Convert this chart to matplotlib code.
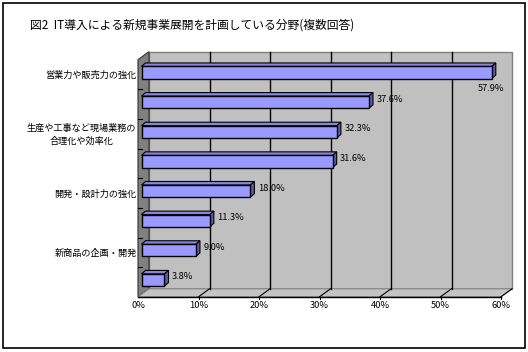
import matplotlib
matplotlib.use("Agg")
import matplotlib.pyplot as plt
from matplotlib.patches import Rectangle, Polygon

plt.rcParams["font.family"] = ["Noto Sans CJK JP", "DejaVu Sans"]

TITLE = "図2  IT導入による新規事業展開を計画している分野(複数回答)"
# only every other category label is printed in the original chart
categories = ["営業力や販売力の強化", "", "生産や工事など現場業務の\n合理化や効率化", "",
              "開発・設計力の強化", "", "新商品の企画・開発", ""]
values = [57.9, 37.6, 32.3, 31.6, 18.0, 11.3, 9.0, 3.8]
xticks = [0, 10, 20, 30, 40, 50, 60]
xticklabels = ["0%", "10%", "20%", "30%", "40%", "50%", "60%"]

FRONT_C = "#9999ff"
TOP_C = "#8686e0"
SIDE_C = "#5c5ca6"
WALL_C = "#c0c0c0"
SIDE_WALL_C = "#808080"

FIG_W, FIG_H = 528, 352
# plot plane of the bars, in pixels
AX_L, AX_R, AX_T, AX_B = 141.5, 504.5, 57.7, 294.8

fig = plt.figure(figsize=(FIG_W / 100, FIG_H / 100), dpi=100)
fig.patch.set_facecolor("white")
fig.patches.append(Rectangle((3 / FIG_W, 4 / FIG_H), 522 / FIG_W, 345 / FIG_H,
                             transform=fig.transFigure, fill=False,
                             edgecolor="black", lw=1.2))
fig.text(30 / FIG_W, 1 - 25 / FIG_H, TITLE, ha="left", va="center", fontsize=8.5)

ax = fig.add_axes([AX_L / FIG_W, 1 - AX_B / FIG_H,
                   (AX_R - AX_L) / FIG_W, (AX_B - AX_T) / FIG_H])
ax.set_xlim(0, 60)
ax.set_ylim(len(values) - 0.5, -0.5)
ax.axis("off")

ux = 60 / (AX_R - AX_L)
uy = len(values) / (AX_B - AX_T)


def px(dx, dy):
    # pixel offset -> data offset (dy > 0 means down)
    return dx * ux, dy * uy


bx, by = px(7.5, -6)      # back wall
fx, fy = px(-3.5, 2)      # front edge of floor / left wall
ddx, ddy = px(4, -3.5)    # bar depth
y0, y1 = -0.5, len(values) - 0.5
xmax = xticks[-1]

kw = dict(clip_on=False)
# back wall
ax.add_patch(Rectangle((bx, y0 + by), xmax, y1 - y0, facecolor=WALL_C,
                       edgecolor=SIDE_WALL_C, lw=1, zorder=0, **kw))
# left wall
ax.add_patch(Polygon([(fx, y0 + fy), (bx, y0 + by), (bx, y1 + by), (fx, y1 + fy)],
                     facecolor=SIDE_WALL_C, edgecolor="#303030", lw=0.8, zorder=1, **kw))
# floor
ax.add_patch(Polygon([(fx, y1 + fy), (bx, y1 + by), (xmax + bx, y1 + by), (xmax + fx, y1 + fy)],
                     facecolor="#c4c4c4", edgecolor=SIDE_WALL_C, lw=0.8, zorder=1, **kw))
ax.plot([fx, xmax + fx], [y1 + fy, y1 + fy], color="black", lw=1, zorder=2, **kw)

# gridlines on wall and floor, tick labels on the front edge
for t, lab in zip(xticks, xticklabels):
    if 0 < t < xmax:
        ax.plot([t + bx, t + bx], [y0 + by, y1 + by], color="black", lw=1, zorder=1.5, **kw)
    if t > 0:
        ax.plot([t + fx, t + bx], [y1 + fy, y1 + by], color="black", lw=0.8, zorder=2, **kw)
        ax.plot([t + fx, t + fx], [y1 + fy, y1 + fy + px(0, 2)[1]], color="black", lw=0.8, zorder=2, **kw)
    ax.text(t + fx, y1 + fy + px(0, 4)[1], lab, ha="center", va="top", fontsize=6.7)

# category ticks on the left wall
for b in range(len(values) - 1):
    ax.plot([fx, fx + px(4, 0)[0]], [b + 0.5 + fy, b + 0.5 + fy], color="black", lw=0.8, zorder=2, **kw)

# bars
h = 0.41
for i, (v, cat) in enumerate(zip(values, categories)):
    top, bot = i - h / 2, i + h / 2
    ax.add_patch(Polygon([(0, top), (ddx, top + ddy), (v + ddx, top + ddy), (v, top)],
                         facecolor=TOP_C, edgecolor="black", lw=0.8, zorder=3, **kw))
    ax.add_patch(Polygon([(v, top), (v + ddx, top + ddy), (v + ddx, bot + ddy), (v, bot)],
                         facecolor=SIDE_C, edgecolor="black", lw=0.8, zorder=3, **kw))
    ax.add_patch(Rectangle((0, top), v, h, facecolor=FRONT_C, edgecolor="black",
                           lw=1, zorder=3.5, **kw))
    lab = f"{v:.1f}%"
    if v > 50:
        ax.text(v + px(12, 0)[0], i + px(0, 16)[1], lab, ha="right", va="center",
                fontsize=6.7, zorder=4)
    else:
        ax.text(v + px(7.5, 0)[0], i + px(0, -3)[1], lab, ha="left", va="center",
                fontsize=6.7, zorder=4)
    if cat:
        ax.text(fx - px(1.5, 0)[0], i + px(0, 3)[1], cat, ha="right", va="center",
                multialignment="center", fontsize=6.6, linespacing=1.6)

fig.savefig("out.png", dpi=100, facecolor="white")
